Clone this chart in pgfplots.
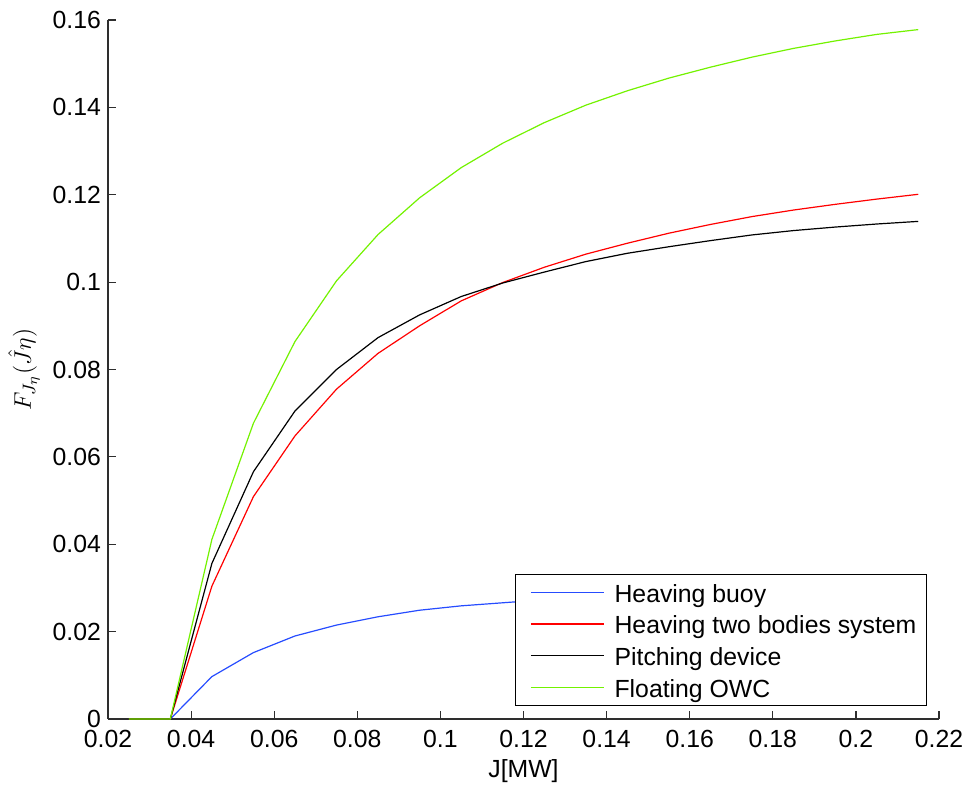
\documentclass[border=0pt]{standalone}
\usepackage{fontspec}
\setmainfont{Liberation Sans}
\usepackage{pgfplots}
\pgfplotsset{compat=1.18}
\definecolor{mblue}{rgb}{0.15,0.3,1}
\definecolor{mgreen}{rgb}{0.45,0.95,0}
\definecolor{axgray}{rgb}{0.18,0.18,0.18}
\begin{document}
\begin{tikzpicture}[font=\fontsize{12.4}{15}\selectfont]
\begin{axis}[
  scale only axis, width=415.5pt, height=349.5pt,
  xmin=0.02, xmax=0.22, ymin=0, ymax=0.16,
  axis x line=bottom, axis y line=left,
  axis line style={-, draw=axgray, line width=0.6pt},
  tick style={draw=axgray, line width=0.6pt},
  tick align=inside, major tick length=4pt,
  xtick={0.02,0.04,0.06,0.08,0.1,0.12,0.14,0.16,0.18,0.2,0.22},
  ytick={0,0.02,0.04,0.06,0.08,0.1,0.12,0.14,0.16},
  scaled ticks=false,
  /pgf/number format/fixed, /pgf/number format/precision=2,
  /pgf/number format/assume math mode=true,
  xticklabel style={inner ysep=0pt, yshift=-5.6pt},
  yticklabel style={inner ysep=0pt},
  xlabel={J[MW]},
  ylabel={\fontsize{13.2}{16}\selectfont$F_{J_\eta}(\hat{J}\eta)$},
  xlabel style={at={(axis description cs:0.5,-0.0744)}, anchor=center},
  ylabel style={at={(axis description cs:-0.1011,0.5)}, anchor=center},
  clip=false,
  legend cell align=left,
  legend image code/.code={\path (0pt,0pt); \draw[#1, line width=0.7pt] (2.5pt,0pt) -- (39pt,0pt);},
  legend style={at={(axis description cs:0.9856,0.0186)}, anchor=south east,
    draw=black, line width=0.6pt, fill=white,
    inner xsep=5pt, inner ysep=2pt, row sep=1.85pt,
    nodes={inner sep=0pt, text height=12pt, text depth=2pt},
    /tikz/every odd column/.append style={column sep=5pt}},
  every axis plot/.append style={line width=0.6pt},
]
\addplot[mblue] coordinates {(0.025,0)(0.035,0)(0.045,0.0097)(0.055,0.0152)(0.065,0.0190)(0.075,0.0215)(0.085,0.0234)(0.095,0.0249)(0.105,0.0259)(0.115,0.0266)(0.125,0.0273)(0.135,0.0279)(0.145,0.0284)(0.155,0.0288)(0.165,0.0292)(0.175,0.0295)(0.185,0.0298)(0.195,0.0301)(0.205,0.0303)(0.215,0.0306)};
\addlegendentry{Heaving buoy}
\addplot[red] coordinates {(0.025,0)(0.035,0)(0.045,0.0304)(0.055,0.0509)(0.065,0.0648)(0.075,0.0755)(0.085,0.0837)(0.095,0.0900)(0.105,0.0957)(0.115,0.0999)(0.125,0.1034)(0.135,0.1064)(0.145,0.1089)(0.155,0.1112)(0.165,0.1132)(0.175,0.1150)(0.185,0.1165)(0.195,0.1178)(0.205,0.1190)(0.215,0.1201)};
\addlegendentry{Heaving two bodies system}
\addplot[black] coordinates {(0.025,0)(0.035,0)(0.045,0.0356)(0.055,0.0566)(0.065,0.0705)(0.075,0.0800)(0.085,0.0873)(0.095,0.0925)(0.105,0.0967)(0.115,0.0998)(0.125,0.1023)(0.135,0.1047)(0.145,0.1066)(0.155,0.1081)(0.165,0.1095)(0.175,0.1108)(0.185,0.1118)(0.195,0.1126)(0.205,0.1133)(0.215,0.1139)};
\addlegendentry{Pitching device}
\addplot[mgreen] coordinates {(0.025,0)(0.035,0)(0.045,0.0411)(0.055,0.0677)(0.065,0.0864)(0.075,0.1003)(0.085,0.1109)(0.095,0.1193)(0.105,0.1262)(0.115,0.1318)(0.125,0.1365)(0.135,0.1405)(0.145,0.1438)(0.155,0.1467)(0.165,0.1492)(0.175,0.1515)(0.185,0.1535)(0.195,0.1552)(0.205,0.1567)(0.215,0.1578)};
\addlegendentry{Floating OWC}
\end{axis}
\pgfresetboundingbox
\path (current axis.south west) ++(-54pt,-33pt) rectangle ++(484pt,392.5pt);
\end{tikzpicture}
\end{document}
